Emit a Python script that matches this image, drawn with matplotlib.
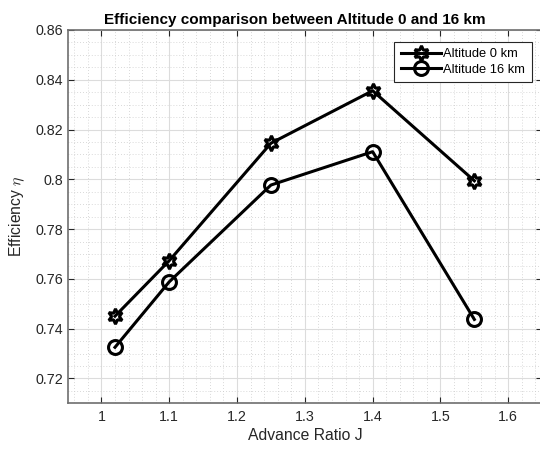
import matplotlib
matplotlib.use("Agg")
import matplotlib.pyplot as plt
from matplotlib.ticker import MultipleLocator

plt.rcParams['font.family'] = ['Liberation Sans', 'DejaVu Sans']
plt.rcParams['mathtext.fontset'] = 'cm'

# Advance ratio samples and propeller efficiency at each altitude
advance_ratio = [1.02, 1.10, 1.25, 1.40, 1.55]
eff_alt0 = [0.7450, 0.7673, 0.8145, 0.8356, 0.7994]
eff_alt16 = [0.7325, 0.7588, 0.7977, 0.8111, 0.7437]
series_labels = ['Altitude 0 km', 'Altitude 16 km']

x_ticks = [1.0, 1.1, 1.2, 1.3, 1.4, 1.5, 1.6]
x_tick_labels = ['1', '1.1', '1.2', '1.3', '1.4', '1.5', '1.6']
y_ticks = [0.72, 0.74, 0.76, 0.78, 0.80, 0.82, 0.84, 0.86]
y_tick_labels = ['0.72', '0.74', '0.76', '0.78', '0.8', '0.82', '0.84', '0.86']

axis_gray = '#262626'

fig = plt.figure(figsize=(5.40, 4.53), dpi=100)
ax = fig.add_axes([0.125, 0.1097, 0.879, 0.8241])

ax.plot(advance_ratio, eff_alt0, color='black', linewidth=2.2,
        marker=(6, 1, 0), markersize=11, markerfacecolor='none',
        markeredgewidth=2.2, label=series_labels[0], zorder=3)
ax.plot(advance_ratio, eff_alt16, color='black', linewidth=2.2,
        marker='o', markersize=10, markerfacecolor='none',
        markeredgewidth=2.2, label=series_labels[1], zorder=3)

ax.set_xlim(0.95, 1.65)
ax.set_ylim(0.71, 0.86)
ax.set_xticks(x_ticks)
ax.set_xticklabels(x_tick_labels)
ax.set_yticks(y_ticks)
ax.set_yticklabels(y_tick_labels)
ax.xaxis.set_minor_locator(MultipleLocator(0.02))
ax.yaxis.set_minor_locator(MultipleLocator(0.005))

ax.grid(which='major', color='#dcdcdc', linewidth=0.8, linestyle='-')
ax.grid(which='minor', color='#cccccc', linewidth=0.6, linestyle=(0, (1, 2.5)))
ax.set_axisbelow(True)

ax.tick_params(which='both', direction='in', top=True, right=True,
               colors=axis_gray, labelsize=10.3, labelcolor=axis_gray)
ax.tick_params(which='major', length=4, width=0.8)
ax.tick_params(axis='x', which='major', pad=5)
ax.tick_params(axis='y', which='major', pad=3)
ax.tick_params(which='minor', length=0)
for s in ax.spines.values():
    s.set_color('#6e6e6e')
    s.set_linewidth(1.2)

ax.set_xlabel('Advance Ratio J', fontsize=11.3, color=axis_gray, labelpad=3)
ax.set_ylabel(r'Efficiency $\eta$', fontsize=11.3, color=axis_gray, labelpad=6)
ax.set_title('Efficiency comparison between Altitude 0 and 16 km',
             fontsize=11, fontweight='bold', x=0.479, pad=4)

leg = ax.legend(loc='upper right', bbox_to_anchor=(0.978, 0.969),
                fontsize=9.3, handlelength=3.1, handletextpad=0.2,
                borderpad=0.5, labelspacing=0.3, fancybox=False,
                framealpha=1, edgecolor='#262626', borderaxespad=0)
leg.get_frame().set_linewidth(0.8)

fig.savefig('out.png', dpi=100)
